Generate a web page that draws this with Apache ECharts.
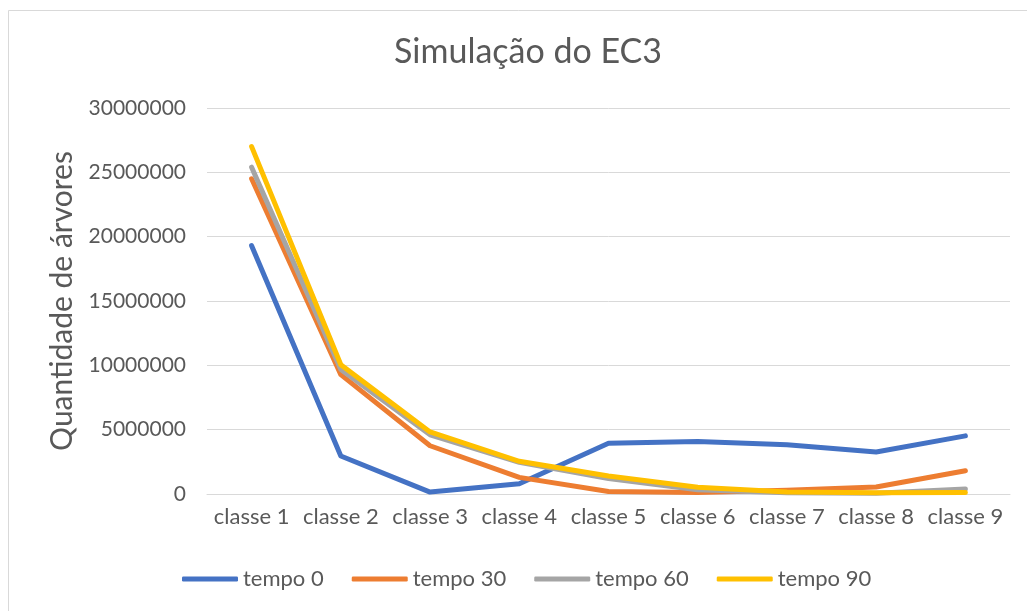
<!DOCTYPE html>
<html>
<head>
<meta charset="utf-8">
<script src="https://cdn.jsdelivr.net/npm/echarts@6/dist/echarts.min.js"></script>
<style>
html,body{margin:0;padding:0;background:#fff;}
#chart{width:1027px;height:611px;}
</style>
</head>
<body>
<div id="chart"></div>
<script>
const categories = ["classe 1","classe 2","classe 3","classe 4","classe 5","classe 6","classe 7","classe 8","classe 9"];
const tempo0  = [19300000, 2950000, 150000, 800000, 3950000, 4080000, 3820000, 3270000, 4520000];
const tempo30 = [24500000, 9280000, 3750000, 1290000, 200000, 120000, 300000, 540000, 1810000];
const tempo60 = [25400000, 9670000, 4600000, 2460000, 1200000, 330000, 100000, 60000, 390000];
const tempo90 = [27000000, 10050000, 4820000, 2540000, 1400000, 520000, 150000, 100000, 110000];
const seriesNames = ["tempo 0","tempo 30","tempo 60","tempo 90"];
const colors = ["#4472C4","#ED7D31","#A5A5A5","#FFC000"];
const font = "Lato, 'Open Sans', sans-serif";
const txt = "#595959";

const chart = echarts.init(document.getElementById('chart'), null, {renderer:'canvas'});
const data = [tempo0, tempo30, tempo60, tempo90];
chart.setOption({
  animation:false,
  backgroundColor:'#fff',
  color: colors,
  graphic:[{type:'rect', shape:{x:8.5,y:10.5,width:1040,height:700}, style:{fill:'none',stroke:'#D9D9D9',lineWidth:1}, silent:true}],
  title:{text:"Simulação do EC3", left:523, textAlign:'center', top:30,
    textStyle:{fontFamily:font, fontSize:34, fontWeight:'normal', color:txt}},
  grid:{left:207, right:17, top:108, bottom:117, containLabel:false},
  legend:{left:177, top:563, itemWidth:56, itemHeight:5, itemGap:28, icon:'roundRect',
    data: seriesNames,
    textStyle:{fontFamily:font, fontSize:22, color:txt}},
  xAxis:{type:'category', data:categories, boundaryGap:true,
    axisLine:{lineStyle:{color:'#D9D9D9',width:1}}, axisTick:{show:false},
    axisLabel:{fontFamily:font, fontSize:22, color:txt, margin:12, interval:0}},
  yAxis:{type:'value', min:0, max:30000000, interval:5000000,
    name:"Quantidade de árvores", nameLocation:'middle', nameGap:128, nameRotate:90,
    nameTextStyle:{fontFamily:font, fontSize:30, color:txt},
    axisLine:{show:false}, axisTick:{show:false},
    splitLine:{lineStyle:{color:'#D9D9D9',width:1}},
    axisLabel:{fontFamily:font, fontSize:21, color:txt, margin:21, formatter:(v)=>String(v)}},
  series: seriesNames.map((n,i)=>({name:n, type:'line', data:data[i], symbol:'none',
    lineStyle:{width:5, color:colors[i], cap:'round', join:'round'}, itemStyle:{color:colors[i]}}))
});
</script>
</body>
</html>
